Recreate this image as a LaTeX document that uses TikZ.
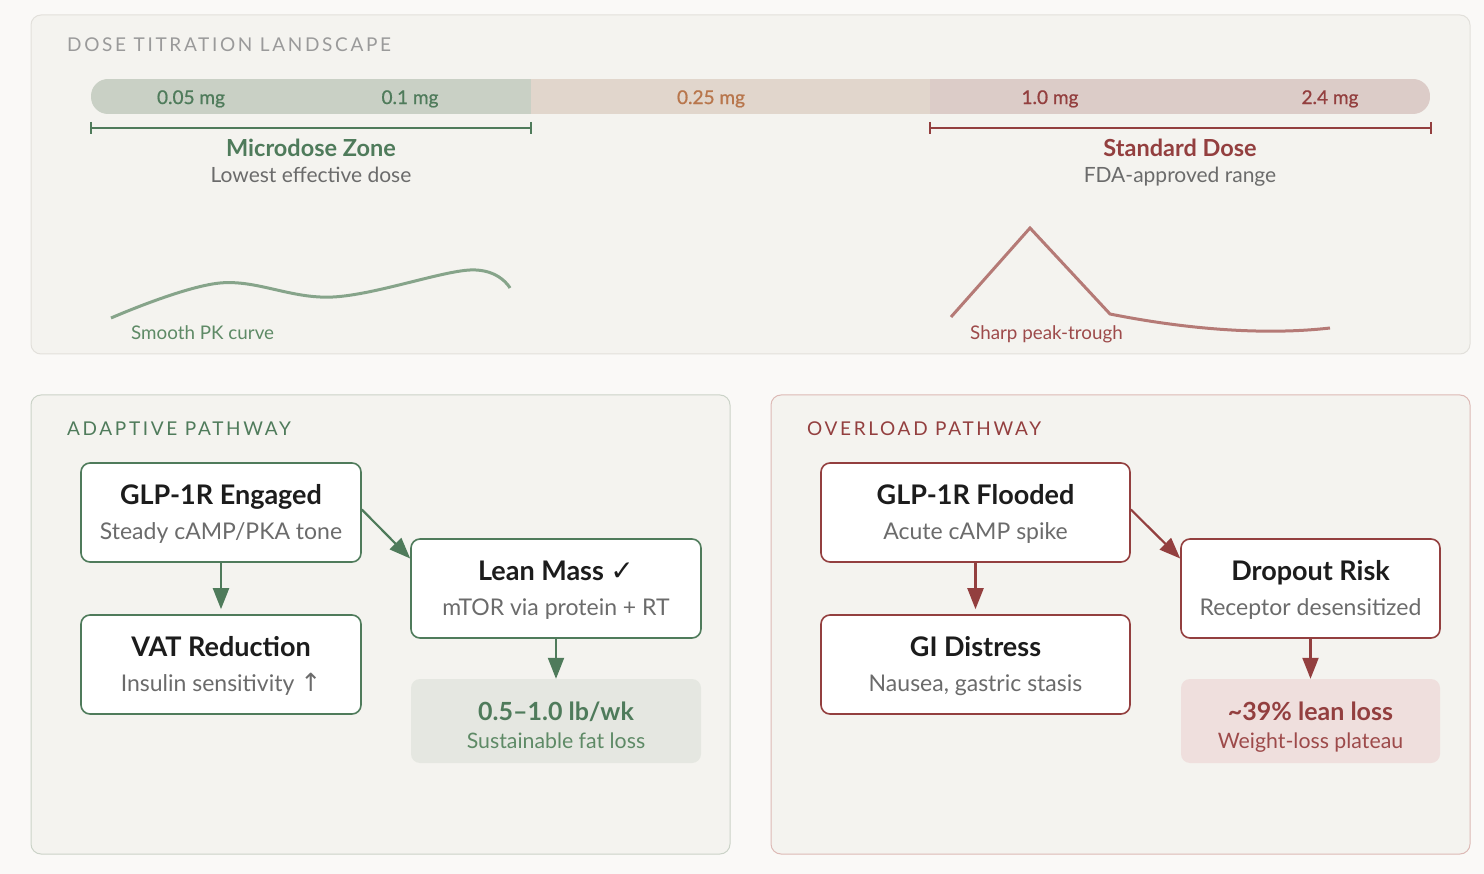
\documentclass[tikz,border=0pt]{standalone}
\usepackage{fontspec}
\setmainfont{Lato}
\newfontfamily\symf{DejaVu Sans}
\newfontfamily\capsf[LetterSpace=14]{Lato}
\newfontfamily\medf[FakeBold=0.8]{Lato}
\usetikzlibrary{arrows.meta}
\definecolor{pagebg}{HTML}{FAF9F7}
\definecolor{panelbg}{HTML}{F4F3EF}
\definecolor{topborder}{HTML}{E2E0DB}
\definecolor{greenborder}{HTML}{CBD3C8}
\definecolor{redborder}{HTML}{DDBAB6}
\definecolor{greenD}{HTML}{4F7B5B}
\definecolor{redD}{HTML}{933F3F}
\definecolor{orangeD}{HTML}{B8764C}
\definecolor{barG}{HTML}{C9D0C5}
\definecolor{barB}{HTML}{E1D6CC}
\definecolor{barR}{HTML}{DCCCC8}
\definecolor{greyT}{HTML}{6B6B6B}
\definecolor{capsgrey}{HTML}{9A9A9A}
\definecolor{blackT}{HTML}{1C1C1C}
\definecolor{curveG}{HTML}{86A48A}
\definecolor{curveR}{HTML}{B57A76}
\definecolor{resG}{HTML}{E5E7E1}
\definecolor{resR}{HTML}{EFDFDD}
\definecolor{labG}{HTML}{5E8A66}
\definecolor{labR}{HTML}{9D4A4A}
\begin{document}
\begin{tikzpicture}[x=1pt,y=-1pt,
  panel/.style={fill=panelbg, line width=1pt, rounded corners=10pt},
  txt/.style={inner sep=0pt, anchor=mid},
  capst/.style={inner sep=0pt, anchor=west, font=\capsf\fontsize{19}{22}\selectfont},
  barlab/.style={txt, yshift=-4.5pt, font=\medf\fontsize{19}{22}\selectfont},
  zonet/.style={txt, yshift=-6.5pt, font=\bfseries\fontsize{23.5}{27}\selectfont},
  zones/.style={txt, yshift=-5.5pt, text=greyT, font=\fontsize{21}{25}\selectfont},
  gbox/.style={draw=greenD, fill=white, line width=1.6pt, rounded corners=9pt, inner sep=0pt},
  rbox/.style={draw=redD, fill=white, line width=1.6pt, rounded corners=9pt, inner sep=0pt},
  bt/.style={txt, yshift=-7.5pt, text=blackT, font=\bfseries\fontsize{27}{31}\selectfont},
  bs/.style={txt, yshift=-6pt, text=greyT, font=\fontsize{23}{27}\selectfont},
  rt/.style={txt, yshift=-6.5pt, font=\bfseries\fontsize{25}{29}\selectfont},
  rs/.style={txt, yshift=-5.5pt, font=\fontsize{21.3}{25}\selectfont},
  arr/.style={-{Triangle[length=21pt,width=16pt]}, line width=2.2pt},
  bracket/.style={line width=2.8pt},
  curvelab/.style={inner sep=0pt, anchor=west, font=\fontsize{18.8}{22}\selectfont}
]
\useasboundingbox (0,0) rectangle (1484,874);
\fill[pagebg] (0,0) rectangle (1484,874);

% ---------- top panel ----------
\draw[panel, draw=topborder] (31,15) rectangle (1470,354);
\node[capst, text=capsgrey] (toptitle) at (67,44.5) {DOSE TITRATION LANDSCAPE};

\begin{scope}
  \clip[rounded corners=17pt] (91,79) rectangle (1430,114);
  \fill[barG] (91,79) rectangle (531,114);
  \fill[barB] (531,79) rectangle (930,114);
  \fill[barR] (930,79) rectangle (1430,114);
\end{scope}
\node[barlab, text=greenD] (d1) at (191,97) {0.05 mg};
\node[barlab, text=greenD] (d2) at (410,97) {0.1 mg};
\node[barlab, text=orangeD] (d3) at (711,97) {0.25 mg};
\node[barlab, text=redD] (d4) at (1050,97) {1.0 mg};
\node[barlab, text=redD] (d5) at (1330,97) {2.4 mg};

% brackets
\draw[greenD, bracket] (91,128) -- (531,128);
\draw[greenD, bracket] (91,122) -- (91,134);
\draw[greenD, bracket] (531,122) -- (531,134);
\draw[redD, bracket] (930,128) -- (1431,128);
\draw[redD, bracket] (930,122) -- (930,134);
\draw[redD, bracket] (1431,122) -- (1431,134);

\node[zonet, text=greenD] (mz) at (311,147) {Microdose Zone};
\node[zones] (mzs) at (311,174) {Lowest effective dose};
\node[zonet, text=redD] (sd) at (1180,147) {Standard Dose};
\node[zones] (sds) at (1180,174) {FDA-approved range};

% PK curves
\draw[curveG, line width=3pt] plot[smooth, tension=0.6] coordinates {(111,318) (220,283) (333,297) (470,270) (510,288)};
\node[curvelab, text=labG] (pkg) at (131,333) {Smooth PK curve};
\draw[curveR, line width=3pt, line join=miter] (951,317) -- (1030,228) -- (1110,314) .. controls (1180,328) and (1260,336) .. (1330,328);
\node[curvelab, text=labR] (pkr) at (970,334.5) {Sharp peak-trough};

% ---------- adaptive panel ----------
\draw[panel, draw=greenborder] (31,395) rectangle (730,854);
\node[capst, text=greenD] (adt) at (67,428.5) {ADAPTIVE PATHWAY};

\node[gbox, minimum width=280pt, minimum height=99pt] (e1) at (221,512.5) {};
\node[bt] (e1t) at (221,494) {GLP-1R Engaged};
\node[bs] (e1s) at (221,531) {Steady cAMP/PKA tone};

\node[gbox, minimum width=280pt, minimum height=99pt] (vat) at (221,664.5) {};
\node[bt] (vatt) at (221,646) {VAT Reduction};
\node[bs] (vats) at (221,683) {Insulin sensitivity {\symf\fontsize{25}{28}\selectfont ↑}};

\node[gbox, minimum width=290pt, minimum height=99pt] (lean) at (556,588.5) {};
\node[bt] (leant) at (556,570) {Lean Mass {\symf\bfseries\fontsize{28}{31}\selectfont ✓}};
\node[bs] (leans) at (556,607) {mTOR via protein + RT};

\node[fill=resG, rounded corners=9pt, minimum width=290pt, minimum height=84pt, inner sep=0pt] (resg) at (556,721) {};
\node[rt, text=greenD] (resgt) at (556,711) {0.5–1.0 lb/wk};
\node[rs, text=labG] (resgs) at (556,740) {Sustainable fat loss};

\draw[arr, greenD] (e1.south) -- ([yshift=5pt]vat.north);
\draw[arr, greenD] ([yshift=3pt]e1.east) -- ([yshift=30pt]lean.west);
\draw[arr, greenD] (lean.south) -- (resg.north);

% ---------- overload panel ----------
\draw[panel, draw=redborder] (771,395) rectangle (1470,854);
\node[capst, text=redD] (ovt) at (807,428.5) {OVERLOAD PATHWAY};

\node[rbox, minimum width=309pt, minimum height=99pt] (f1) at (975.5,512.5) {};
\node[bt] (f1t) at (975.5,494) {GLP-1R Flooded};
\node[bs] (f1s) at (975.5,531) {Acute cAMP spike};

\node[rbox, minimum width=309pt, minimum height=99pt] (gi) at (975.5,664.5) {};
\node[bt] (git) at (975.5,646) {GI Distress};
\node[bs] (gis) at (975.5,683) {Nausea, gastric stasis};

\node[rbox, minimum width=259pt, minimum height=99pt] (drop) at (1310.5,588.5) {};
\node[bt] (dropt) at (1310.5,570) {Dropout Risk};
\node[bs] (drops) at (1310.5,607) {Receptor desensitized};

\node[fill=resR, rounded corners=9pt, minimum width=259pt, minimum height=84pt, inner sep=0pt] (resr) at (1310.5,721) {};
\node[rt, text=redD] (resrt) at (1310.5,711) {\textasciitilde39\% lean loss};
\node[rs, text=labR] (resrs) at (1310.5,740) {Weight-loss plateau};

\draw[arr, redD] (f1.south) -- ([yshift=5pt]gi.north);
\draw[arr, redD] ([yshift=3pt]f1.east) -- ([yshift=30pt]drop.west);
\draw[arr, redD] (drop.south) -- (resr.north);
\end{tikzpicture}
\end{document}
